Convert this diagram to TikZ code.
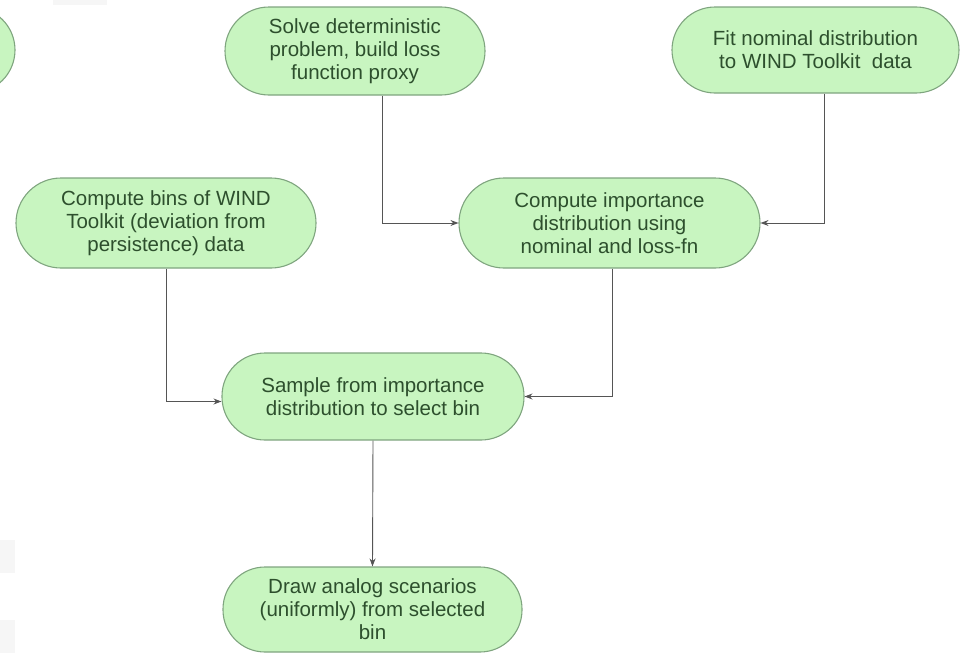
\documentclass[tikz,border=0pt]{standalone}
\usepackage{fontspec}
\setmainfont{Liberation Sans}
\usetikzlibrary{arrows.meta}
\definecolor{boxfill}{HTML}{C8F5C0}
\definecolor{boxline}{HTML}{7FA57F}
\definecolor{boxtext}{HTML}{2D4F2D}
\definecolor{linecol}{HTML}{555555}
\definecolor{faint}{HTML}{F6F6F6}
\tikzset{
  stadium/.style={draw=boxline, line width=1.1pt, fill=boxfill, text=boxtext,
    align=center, inner sep=0pt, rounded corners=#1,
    font=\fontsize{20.5pt}{23pt}\selectfont},
  arr/.style={draw=linecol, line width=0.9pt, -{Stealth[length=8pt,width=6pt]}}
}
\begin{document}
\begin{tikzpicture}[x=1pt,y=1pt]
\useasboundingbox (0,0) rectangle (961,-653);
% faint background remnants
\fill[faint] (0,-540) rectangle (15,-573);
\fill[faint] (0,-620) rectangle (15,-653);
\fill[faint] (53,0) rectangle (107,-5);
% partial node at left edge
\begin{scope}
\clip (0,0) rectangle (961,-653);
\node[stadium=43pt, minimum width=200pt, minimum height=86pt] (p0) at (-85,-50) {};
\end{scope}
\node[stadium=44pt, minimum width=260pt, minimum height=88pt] (n1) at (355,-51)
  {Solve deterministic\\problem, build loss\\function proxy};
\node[stadium=43pt, minimum width=287pt, minimum height=86pt] (n2) at (815.5,-50)
  {Fit nominal distribution\\to WIND Toolkit~ data};
\node[stadium=45pt, minimum width=300pt, minimum height=90pt] (n3) at (166,-223)
  {Compute bins of WIND\\Toolkit (deviation from\\persistence) data};
\node[stadium=45pt, minimum width=301pt, minimum height=90pt] (n4) at (609.5,-223)
  {Compute importance\\distribution using\\nominal and loss-fn};
\node[stadium=43pt, minimum width=302pt, minimum height=87pt] (n5) at (373,-396.5)
  {Sample from importance\\distribution to select bin};
\node[stadium=42pt, minimum width=299pt, minimum height=85pt] (n6) at (372.5,-609.5)
  {Draw analog scenarios\\(uniformly) from selected\\bin};
% connectors
\draw[arr] ([xshift=27pt]n1.south) |- (n4.west);
\draw[arr] ([xshift=9pt]n2.south) |- (n4.east);
\draw[arr] (n3.south) |- ([yshift=-5pt]n5.west);
\draw[arr] ([xshift=2.5pt]n4.south) |- (n5.east);
\draw[arr] (n5.south) -- (n6.north);
\end{tikzpicture}
\end{document}
